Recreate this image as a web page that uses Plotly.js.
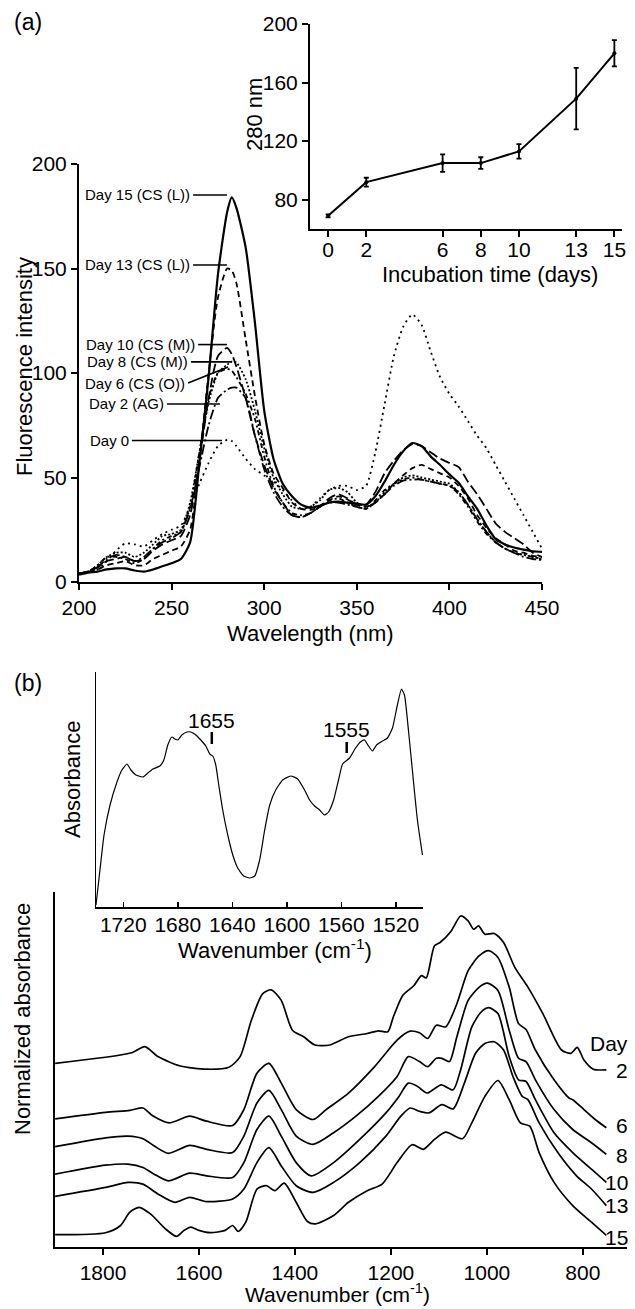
<!DOCTYPE html>
<html><head><meta charset="utf-8">
<script src="https://cdn.plot.ly/plotly-3.0.1.min.js"></script>
<style>html,body{margin:0;padding:0;background:#fff}#chart{width:635px;height:1309px}</style>
</head><body><div id="chart"></div>
<script>
// ---------- Panel (a) main: fluorescence spectra ----------
const wavelength = [200,205,210,215,220,225,230,235,240,245,250,255,260,265,270,275,280,282.5,285,290,295,300,305,310,315,320,325,330,335,340,345,350,355,360,365,370,375,380,385,390,395,400,405,410,415,420,425,430,435,440,445,450];
const fl_day0  = [4,5,6,10,15,18.5,18,17,20,23,25,27,36,47,57,65,68,67.5,65,59,54,51,48,44,39,35,36,40,44,46,46,44,46,62,85,108,122,128,123,110,98,90,84,77,70,64,56,48,40,32,24,16];
const fl_day2  = [4,5,7,11,13,12,10,12,16,19,21,24,35,55,75,88,92,93,93,88,70,54,43,36,32,31,33,36,38,38,37,36,35,38,42,46,48.5,49,49,48,47,46,43,37,30,24,19,16,14,12,11,10.5];
const fl_day6  = [4,5,8,12,12,11,9,11,16,20,22,24,36,62,88,100,102,101,98,90,78,60,46,38,33,32,33,36,39,40,38,36,35,39,44,47,49,50,49,48,47,46,42,36,29,23,19,16,14,13,12,11];
const fl_day8  = [4,5,8,12,14,14,12,14,18,22,23,25,38,62,86,100,104,105.5,105,97,82,64,50,42,36,35,36,39,44,45,43,38,36,38,43,47,50,51,50,49,48,47,43,37,30,24,19,16,14,13,12,11];
const fl_day10 = [4,5,7,10,11,12,10,11,15,18,20,22,32,58,88,108,112,109,103,88,70,56,45,38,32,31,33,36,40,42,40,37,37,43,52,58,63,66,65,62,59,57,55,48,42,35,28,24,21,18,14,12];
const fl_day13 = [4,5,6,8,9,10,8,8,11,13,15,17,25,58,100,136,150,149,143,116,89,66,52,45,38,35,34.5,36,39,41,39.5,37,36,38,42,47,51,54.5,56,54,52,50,46,40,32,26,21,18,15,14,12.5,12];
const fl_day15 = [3.5,4.5,5,6,6.5,6.5,5.5,5,6,7.5,9,11,19,57,98,147,177,184,179,160,124,82,59,47,41,37,35.5,36.5,38,38.5,38,37.5,37,41,48,56,62.5,66.5,65,60,56,51.5,47.5,41,35,27,20.5,18,16.5,15.5,14.7,14.4];
const flLabels = ["Day 0","Day 2 (AG)","Day 6 (CS (O))","Day 8 (CS (M))","Day 10 (CS (M))","Day 13 (CS (L))","Day 15 (CS (L))"];

// ---------- Panel (a) inset ----------
const incDays = [0,2,6,8,10,13,15];
const int280 = [69,92,105,105,113,149,180];
const int280Err = [1,3,6,4,5,21,9];

// ---------- Panel (b) inset ----------
const inset_wn = [1740,1737.1,1734.1,1729.7,1724.6,1721,1717.3,1714.4,1710.7,1705.6,1701.9,1698.2,1693.1,1690.2,1687.3,1684.3,1682.1,1679.9,1677,1673.3,1670.4,1666.7,1663.1,1659.4,1656.5,1654.3,1652.1,1649.9,1647,1643.3,1639.6,1636,1631.6,1627.2,1623.5,1619.9,1616.2,1612.5,1608.1,1603,1597.1,1592,1586.9,1583.2,1579.6,1575.9,1572.2,1569.3,1565.6,1562,1559,1553.9,1549.5,1545.9,1542.9,1540,1537.1,1534.1,1529.7,1526.1,1522.4,1518.8,1515.8,1513.6,1510.7,1507.1,1504.1,1500.4];
const inset_abs = [2,37,72,102,125,137,143,137,132,130,134,138,141,147,162,170,168,167,172,175,175,172,167,161,153,151,142,122,97,72,52,39,31,29,31,47,77,102,117,127,131,128,117,107,101,97,92,95,107,127,143,149,159,165,167,161,156,162,166,169,179,202,218,212,177,127,87,52];

// ---------- Panel (b) main: stacked FTIR spectra ----------
const wn_d2 = [1899.7,1740,1712.8,1685.6,1638.8,1584.3,1537.6,1514.2,1490.8,1467.5,1449.6,1428.5,1405.2,1381.8,1358.5,1327.3,1288.4,1249.4,1226.1,1206.6,1195,1175.4,1152,1136.5,1126.4,1109.2,1097.6,1074.2,1054.7,1039.1,1027.5,1017.3,1004.1,984.6,965.2,941.8,914.5,883.4,844.4,825,811.7,797.7,778.2,751];
const ab_d2 = [183.7,194.3,200.3,190.4,181,177.8,179.7,190.4,226.7,253.2,257.2,246.6,216.8,210.2,202,202,210.2,213.5,216.2,215.2,230,251.6,261.5,271.4,269.1,301.2,304.5,316.1,331,326.1,317.8,321.1,312.8,313.5,304.5,279.7,259.9,233.4,197,193.7,199.6,187,177.8,177.1];
const wn_d6 = [1899.7,1794.6,1744,1716.7,1697.2,1662.2,1619.4,1584.3,1529.8,1506.4,1479.2,1454.2,1428.5,1397.4,1362.4,1335.1,1288.4,1233.9,1187.1,1159.9,1140.4,1123.3,1105.3,1085.9,1062.5,1039.1,1015.8,996.3,976.9,953.5,934,918.4,898.9,860,828.8,821.1,797.7,774.3,751];
const ab_d6 = [128.1,134.7,136.7,139,131.4,124.1,130.8,125.8,121.5,137.4,173.8,183.7,163.9,137.4,127.5,137.4,153.9,180.4,206.9,215.8,214.2,208.5,221.8,220.1,243.3,276.4,291.3,296.3,289.6,259.9,223.4,217.5,197,167.2,149,147.3,137.4,127.5,119.2];
const wn_d8 = [1899.7,1794.6,1747.9,1716.7,1693.3,1663.8,1619.4,1584.3,1529.8,1506.4,1479.2,1454.2,1428.5,1397.4,1362.4,1319.5,1272.8,1226.1,1187.1,1163.8,1140.4,1123.3,1105.3,1093.7,1078.1,1062.5,1039.1,1015.8,998.7,976.9,953.5,934,918.4,898.9,860,821.1,782.1,751];
const ab_d8 = [100.3,109.2,110.9,108.3,101,93.7,101.6,97.7,94.4,110.9,144,156.6,137.4,110.9,102.6,114.2,130.8,150.6,170.5,190.4,185.4,180.4,188.7,188.7,185.4,210.2,246.6,259.9,263.8,256.5,216.8,188.7,185.4,167.2,137.4,117.5,104.3,92.7];
const wn_d10 = [1899.7,1794.6,1747.9,1716.7,1693.3,1663.8,1619.4,1584.3,1529.8,1506.4,1479.2,1454.2,1428.5,1397.4,1366.3,1319.5,1265,1210.4,1183.2,1163.8,1144.3,1124.9,1095.2,1070.3,1054.7,1031.4,1011.9,996.3,976.9,953.5,934,918.4,898.9,860,821.1,782.1,751];
const ab_d10 = [72.8,81.8,82.8,79.5,72.8,66.2,73.8,71.2,69.5,84.4,117.5,130.8,110.9,84.4,71.2,84.4,107.6,134.1,150.6,163.9,160.6,154,162.2,157.2,177.1,220.1,235,239.3,233.4,190.4,167.2,165.5,147.3,114.2,94.4,77.8,64.6];
const wn_d13 = [1899.7,1794.6,1747.9,1716.7,1685.6,1650.5,1619.4,1584.3,1529.8,1506.4,1479.2,1454.2,1428.5,1397.4,1362.4,1319.5,1265,1210.4,1179.3,1159.9,1140.4,1120.9,1093.7,1070.3,1046.9,1023.6,1004.1,984.6,965.2,945.7,926.2,914.5,891.1,852.2,813.2,782.1,751];
const ab_d13 = [50.7,59.6,64.6,62.9,53,44.7,49.7,45.4,48,57.9,84.4,99.3,81.1,61.3,54.6,64.6,84.4,110.9,130.8,139,135.7,134.1,142.3,138.1,163.9,193.7,203.6,205.2,197,170.5,150.6,147.3,124.1,94.4,71.2,58,41.4];
const wn_d15 = [1899.7,1794.6,1763.4,1744,1724.5,1701.1,1670,1646.6,1631,1617,1599.9,1576.5,1545.4,1529.8,1518.1,1502.5,1479.2,1459.7,1441.8,1422.3,1397.4,1374,1356.9,1319.5,1288.4,1249.4,1218.3,1187.1,1156,1132.6,1109.2,1085.9,1050.8,1031.4,1004.1,976.9,953.5,930.1,910.6,891.1,860,821.1,782.1,751];
const ab_d15 = [12.3,14.3,21.5,34.8,39.7,33.1,18.2,10.6,16.6,19.9,16.6,14.3,16.6,21.5,15.6,24.8,57.9,61.3,56.3,63.9,44.7,25.5,23.2,31.5,44.7,56.3,62.9,84.4,102.3,97.7,107.6,114.9,108.3,124.1,150.6,166.5,147.3,124.1,120.8,94.4,64.6,41.4,24.8,11.6];
const ftirDayLabels = ["Day","2","6","8","10","13","15"];

// ---------- build ----------
const FONT = "Liberation Sans, Arial, sans-serif";
const W = 635, H = 1309;
const px = v => v / W;
const py = v => 1 - v / H;

const flSeries = [fl_day0, fl_day2, fl_day6, fl_day8, fl_day10, fl_day13, fl_day15];
const flDash = ["2px,4px", "10px,3px,2px,3px", "5px,3px,2px,3px", "2px,2px", "10px,4px", "6px,4px", "solid"];
const flWidth = [1.8, 1.8, 1.8, 1.8, 1.8, 1.8, 2.2];

const traces = [];
flSeries.forEach((s, i) => {
  traces.push({type: "scatter", mode: "lines", x: wavelength, y: s, xaxis: "x", yaxis: "y",
    name: flLabels[i], line: {color: "black", width: flWidth[i], dash: flDash[i], shape: "spline", smoothing: 0.6}});
});
traces.push({type: "scatter", mode: "lines+markers", x: incDays, y: int280, xaxis: "x2", yaxis: "y2",
  line: {color: "black", width: 2}, marker: {color: "black", size: 4},
  error_y: {type: "data", array: int280Err, visible: true, color: "black", thickness: 1.8, width: 2.5}});
traces.push({type: "scatter", mode: "lines", x: inset_wn, y: inset_abs, xaxis: "x3", yaxis: "y3",
  line: {color: "black", width: 1.2, shape: "spline", smoothing: 0.5}});
[[wn_d2, ab_d2], [wn_d6, ab_d6], [wn_d8, ab_d8], [wn_d10, ab_d10], [wn_d13, ab_d13], [wn_d15, ab_d15]].forEach(([x, y]) => {
  traces.push({type: "scatter", mode: "lines", x: x, y: y, xaxis: "x4", yaxis: "y4",
    line: {color: "black", width: 1.7, shape: "spline", smoothing: 0.7}});
});

const baseAxis = {showline: true, linecolor: "black", linewidth: 2, showgrid: false, zeroline: false,
  ticks: "outside", ticklen: 6, tickwidth: 2, tickcolor: "black", tickfont: {size: 21, family: FONT, color: "black"}, fixedrange: true};

const layout = {
  width: W, height: H, margin: {l: 0, r: 0, t: 0, b: 0}, showlegend: false,
  paper_bgcolor: "white", plot_bgcolor: "rgba(0,0,0,0)",
  font: {family: FONT, color: "black", size: 21},
  xaxis: Object.assign({}, baseAxis, {domain: [px(79), px(542)], range: [200, 450], tickvals: [200, 250, 300, 350, 400, 450], anchor: "y"}),
  yaxis: Object.assign({}, baseAxis, {domain: [py(582), py(164)], range: [0, 200], tickvals: [0, 50, 100, 150, 200], anchor: "x"}),
  xaxis2: Object.assign({}, baseAxis, {domain: [px(310), px(622)], range: [-0.95, 15.4], tickvals: incDays, anchor: "y2", ticklabelstandoff: -5}),
  yaxis2: Object.assign({}, baseAxis, {domain: [py(229), py(24)], range: [60, 200], tickvals: [80, 120, 160, 200], anchor: "x2"}),
  xaxis3: Object.assign({}, baseAxis, {domain: [px(96), px(423)], range: [1740, 1500], tickvals: [1720, 1680, 1640, 1600, 1560, 1520],
    ticks: "inside", ticklen: 5, tickwidth: 1.5, linewidth: 1.5, anchor: "y3", ticklabelstandoff: -2}),
  yaxis3: Object.assign({}, baseAxis, {domain: [py(907), py(672)], range: [0, 235], ticks: "", showticklabels: false, linewidth: 1.5, anchor: "x3"}),
  xaxis4: Object.assign({}, baseAxis, {domain: [px(55), px(627)], range: [1900, 708], tickvals: [1800, 1600, 1400, 1200, 1000, 800], anchor: "y4"}),
  yaxis4: Object.assign({}, baseAxis, {domain: [py(1247), py(892)], range: [0, 355], ticks: "", showticklabels: false, anchor: "x4"}),
  shapes: [], annotations: []
};

// legend labels with leader lines (panel a)
const legLines = [
  {t: "Day 15 (CS (L))", x0: 261.6, y0: 185.2, x1: 279.9, y1: 185.2},
  {t: "Day 13 (CS (L))", x0: 261.6, y0: 151.7, x1: 279.9, y1: 151.7},
  {t: "Day 10 (CS (M))", x0: 264.3, y0: 113.6, x1: 279.9, y1: 113.6},
  {t: "Day 8 (CS (M))", x0: 260.5, y0: 105.3, x1: 282.6, y1: 105.3},
  {t: "Day 6 (CS (O))", x0: 258.9, y0: 95.2, x1: 280.5, y1: 102.9},
  {t: "Day 2 (AG)", x0: 247.5, y0: 85.2, x1: 276.1, y1: 85.2},
  {t: "Day 0", x0: 228.6, y0: 67.7, x1: 277.2, y1: 67.7}
];
legLines.forEach(l => {
  layout.shapes.push({type: "line", xref: "x", yref: "y", x0: l.x0, y0: l.y0, x1: l.x1, y1: l.y1, line: {color: "black", width: 1.6}});
  layout.annotations.push({xref: "x", yref: "y", x: l.x0, y: l.y0, text: l.t, showarrow: false, xanchor: "right", yanchor: "middle",
    xshift: -1, font: {size: 15, family: FONT, color: "black"}});
});

// band markers in panel (b) inset
[[1655, 1655, 187, 163, 175], [1556, 1555, 178, 154, 165]].forEach(([w, lab, ty, y0, y1]) => {
  layout.shapes.push({type: "line", xref: "x3", yref: "y3", x0: w, x1: w, y0: y0, y1: y1, line: {color: "black", width: 2.5}});
  layout.annotations.push({xref: "x3", yref: "y3", x: w, y: ty, text: String(lab), showarrow: false,
    xanchor: "center", yanchor: "middle", font: {size: 21, family: FONT, color: "black"}});
});

// text helpers in paper coordinates
function ptext(text, x, y, opts) {
  layout.annotations.push(Object.assign({xref: "paper", yref: "paper", x: px(x), y: py(y), text: text, showarrow: false,
    xanchor: "center", yanchor: "middle", font: {size: 22, family: FONT, color: "black"}}, opts || {}));
}
ptext("(a)", 12, 22, {xanchor: "left", font: {size: 23, family: FONT, color: "black"}});
ptext("(b)", 12, 683, {xanchor: "left", font: {size: 23, family: FONT, color: "black"}});
ptext("Fluorescence intensity", 24, 367, {textangle: -90});
ptext("Wavelength (nm)", 310, 633);
ptext("280 nm", 255, 115, {textangle: -90});
ptext("Incubation time (days)", 490, 274);
ptext("Absorbance", 72, 780, {textangle: -90});
ptext("Wavenumber (cm<sup>-1</sup>)", 275, 949);
ptext("Normalized absorbance", 22, 1019, {textangle: -90});
ptext("Wavenumber (cm<sup>-1</sup>)", 337, 1293, {font: {size: 21, family: FONT, color: "black"}});

const dayLabelY = [1043, 1070, 1125, 1155, 1182, 1205, 1237];
ftirDayLabels.forEach((t, i) => ptext(t, 630, dayLabelY[i], {xanchor: "right", font: {size: 21, family: FONT, color: "black"}}));

Plotly.newPlot("chart", traces, layout, {staticPlot: true, displayModeBar: false});
</script></body></html>
